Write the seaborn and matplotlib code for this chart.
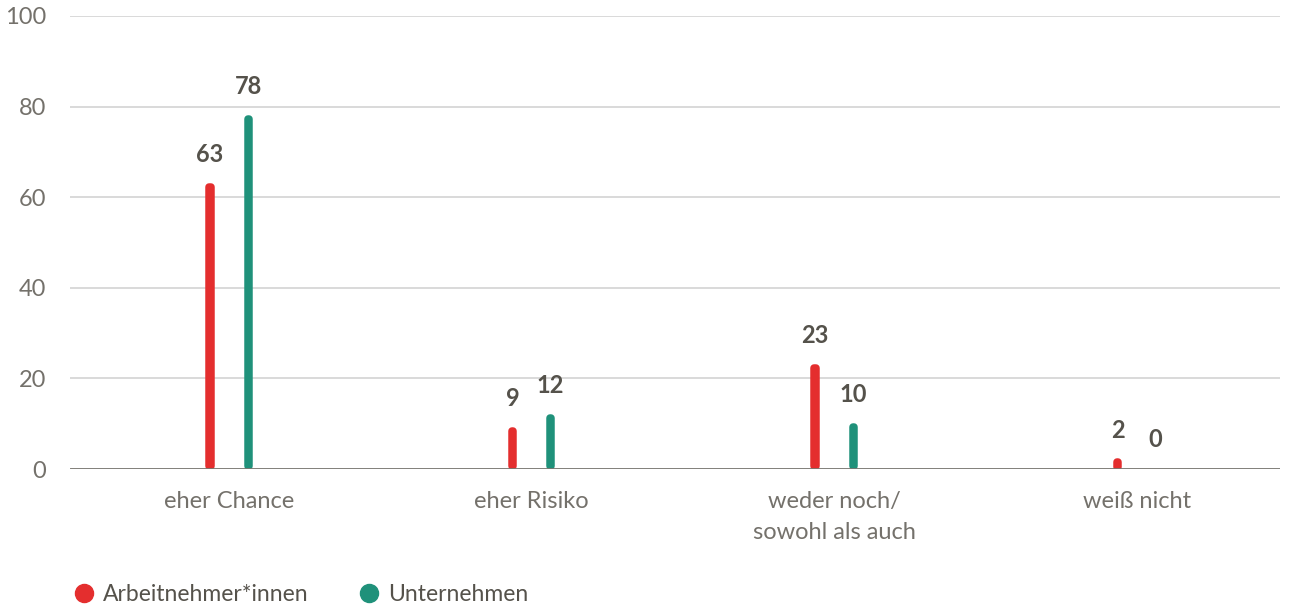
import matplotlib
matplotlib.use("Agg")
import matplotlib.pyplot as plt
from matplotlib.lines import Line2D
import seaborn as sns
import pandas as pd

categories = ["eher Chance", "eher Risiko", "weder noch/\nsowohl als auch", "weiß nicht"]
series = ["Arbeitnehmer*innen", "Unternehmen"]
arbeitnehmer = [63, 9, 23, 2]
unternehmen = [78, 12, 10, 0]
yticks = [0, 20, 40, 60, 80, 100]
colors = ["#E42E2E", "#1F917A"]

df = pd.DataFrame({
    "Kategorie": categories * 2,
    "Gruppe": [series[0]] * 4 + [series[1]] * 4,
    "Wert": arbeitnehmer + unternehmen,
})

sns.set_theme(style="white")
plt.rcParams["font.family"] = ["Lato", "DejaVu Sans"]
text_col = "#55524B"
tick_col = "#74716B"

fig = plt.figure(figsize=(12.95, 6.07), dpi=100)
ax = fig.add_axes([70 / 1295, 138 / 607, 1210 / 1295, 453 / 607])

sns.barplot(data=df, x="Kategorie", y="Wert", hue="Gruppe", order=categories,
            hue_order=series, palette=colors, saturation=1, width=0.252, gap=0.97,
            ax=ax, legend=False, errorbar=None)

for cont in ax.containers:
    ax.bar_label(cont, fmt="%d", padding=13, fontsize=17, fontweight="bold",
                 color=text_col)
    for p in cont.patches:
        h = p.get_height()
        fc = p.get_facecolor()
        if h == 0:
            p.set_visible(False)
            continue
        r = min(0.7, h * 0.25)
        p.set_y(r)
        p.set_height(h - 2 * r)
        p.set_edgecolor(fc)
        p.set_linewidth(5.4)
        p.set_joinstyle("round")
        p.set_capstyle("round")

ax.set_xlim(-0.526, 3.474)
ax.set_ylim(0, 100)
ax.set_yticks(yticks)
ax.set_yticklabels([str(v) for v in yticks])
ax.yaxis.grid(True, color="#CFCFCF", linewidth=1.1)
ax.set_axisbelow(True)
ax.axhline(0, color="#7A7872", linewidth=2, zorder=1)
for s in ax.spines.values():
    s.set_visible(False)
ax.set_xlabel("")
ax.set_ylabel("")
ax.tick_params(axis="y", length=0, pad=17, labelsize=17, labelcolor=tick_col)
ax.tick_params(axis="x", length=0, pad=16, labelsize=17, labelcolor=tick_col)
for lab in ax.get_xticklabels():
    lab.set_linespacing(1.55)

handles = [Line2D([], [], marker="o", linestyle="", markersize=13,
                  markerfacecolor=c, markeredgecolor=c) for c in colors]
fig.legend(handles, series, loc="lower left", bbox_to_anchor=(0.04, -0.03),
           ncol=2, frameon=False, fontsize=16.5, labelcolor=text_col,
           handletextpad=0.35, columnspacing=2.1, handlelength=1.0)

fig.savefig("out.png", dpi=100)
